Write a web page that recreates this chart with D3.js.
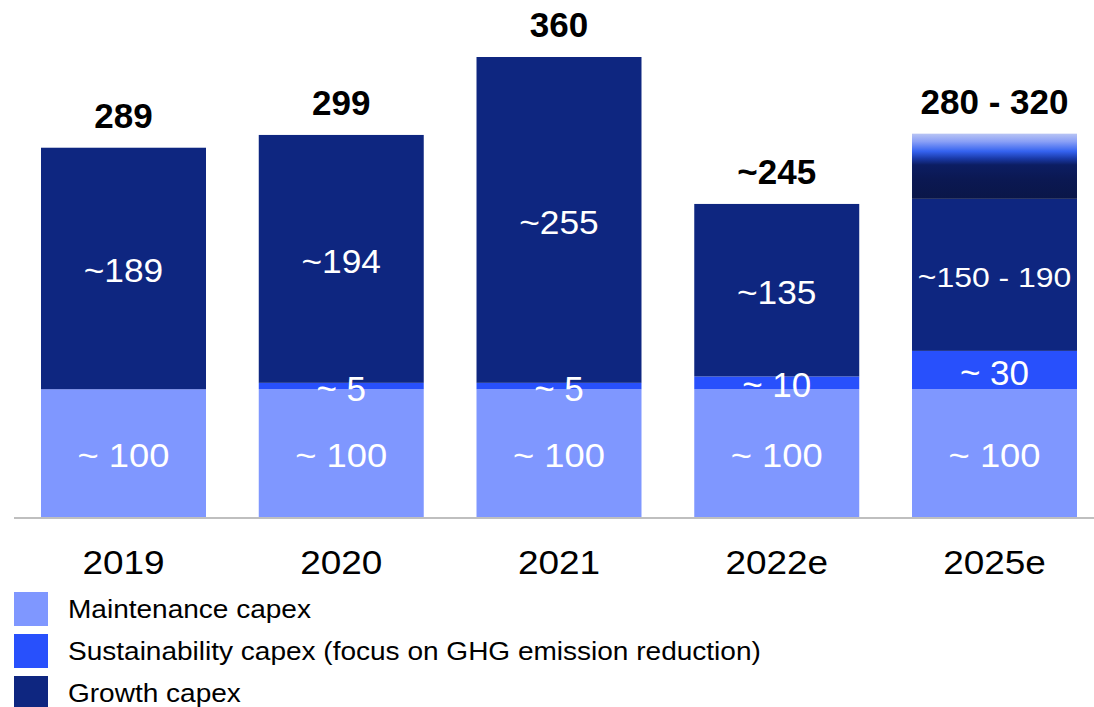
<!DOCTYPE html>
<html>
<head>
<meta charset="utf-8">
<script src="https://cdn.jsdelivr.net/npm/d3@7"></script>
<style>
  html, body { margin: 0; padding: 0; background: #fff; }
  svg { display: block; font-family: "Liberation Sans", Arial, sans-serif; }
</style>
</head>
<body>
<svg id="chart" width="1094" height="707"></svg>
<script>
// ---- data ----
const categories = ["2019", "2020", "2021", "2022e", "2025e"];
const maintenance = [100, 100, 100, 100, 100];
const sustainability = [0, 5, 5, 10, 30];
const growth = [189, 194, 255, 135, 119];        // drawn solid growth part
const growthRange = [0, 0, 0, 0, 51];             // faded uncertainty band (2025e)
const totalLabels = ["289", "299", "360", "~245", "280 - 320"];
const maintenanceLabels = ["~ 100", "~ 100", "~ 100", "~ 100", "~ 100"];
const sustainabilityLabels = ["", "~ 5", "~ 5", "~ 10", "~ 30"];
const growthLabels = ["~189", "~194", "~255", "~135", "~150 - 190"];
const legendLabels = [
  "Maintenance capex",
  "Sustainability capex (focus on GHG emission reduction)",
  "Growth capex"
];

// ---- styles ----
const colors = { maint: "#7f97ff", sust: "#2850fc", growth: "#0e2680" };

const svg = d3.select("#chart");
const x = d3.scaleBand().domain(categories).range([41, 1077]).paddingInner(0.2423).paddingOuter(0);
const y = d3.scaleLinear().domain([0, 360]).range([517, 57]);

const defs = svg.append("defs");
const grad = defs.append("linearGradient").attr("id", "rangeGrad")
  .attr("x1", 0).attr("y1", 0).attr("x2", 0).attr("y2", 1);
[[0, "#b8c4f4"], [0.12, "#8aa0f6"], [0.27, "#3563f0"], [0.38, "#1a3aa8"], [0.48, "#0c1d62"], [0.7, "#0b1852"], [1, "#0a1648"]]
  .forEach(([o, c]) => grad.append("stop").attr("offset", o).attr("stop-color", c));

const data = categories.map((c, i) => {
  const m0 = 0, m1 = maintenance[i];
  const s0 = m1, s1 = m1 + sustainability[i];
  const g0 = s1, g1 = s1 + growth[i];
  const r0 = g1, r1 = g1 + growthRange[i];
  return { c, i, m0, m1, s0, s1, g0, g1, r0, r1 };
});

const bw = x.bandwidth();
const g = svg.append("g");

function seg(sel, lo, hi, fill) {
  sel.append("rect")
    .attr("x", d => x(d.c)).attr("width", bw)
    .attr("y", d => y(d[hi])).attr("height", d => Math.max(0, y(d[lo]) - y(d[hi])))
    .attr("fill", fill);
}
const bars = g.selectAll("g.bar").data(data).join("g").attr("class", "bar");
seg(bars, "m0", "m1", colors.maint);
seg(bars, "s0", "s1", colors.sust);
seg(bars, "g0", "g1", colors.growth);
seg(bars.filter(d => growthRange[d.i] > 0), "r0", "r1", "url(#rangeGrad)");

// axis line
svg.append("line").attr("x1", 14).attr("x2", 1094).attr("y1", 518).attr("y2", 518)
  .attr("stroke", "#bfbfbf").attr("stroke-width", 2);

// category axis labels
const xAxis = d3.axisBottom(x).tickSize(0).tickPadding(0);
const ax = svg.append("g").attr("transform", "translate(0,540)").call(xAxis);
ax.select(".domain").remove();
ax.selectAll("text").attr("font-size", 33).attr("fill", "#000")
  .attr("font-family", "Liberation Sans, Arial, sans-serif")
  .attr("dy", null).attr("y", 0)
  .attr("transform", "translate(0,34) scale(1.12,1)");

// total labels
bars.append("text")
  .attr("x", d => x(d.c) + bw / 2)
  .attr("y", d => y(d.r1) - 20)
  .attr("text-anchor", "middle").attr("font-size", 35).attr("font-weight", "bold").attr("fill", "#000")
  .text(d => totalLabels[d.i]);

// inside labels
function inLabel(sel, lo, hi, labels, fs, extra, sx) {
  sel.append("text")
    .attr("transform", d => `translate(${x(d.c) + bw / 2},${(y(d[lo]) + y(d[hi])) / 2 + 0.36 * fs(d) + extra}) scale(${sx(d)},1)`)
    .attr("text-anchor", "middle").attr("font-size", d => fs(d)).attr("fill", "#fff")
    .text(d => labels[d.i]);
}
inLabel(bars, "m0", "m1", maintenanceLabels, () => 33, 2, () => 1.1);
inLabel(bars, "s0", "s1", sustainabilityLabels, () => 35, 2, () => 1.0);
inLabel(bars, "g0", "g1", growthLabels, d => d.i === 4 ? 28 : 33, 2, d => d.i === 4 ? 1.14 : 1.07);

// legend
const legendColors = [colors.maint, colors.sust, colors.growth];
const lg = svg.append("g").selectAll("g").data(legendLabels).join("g")
  .attr("transform", (d, i) => `translate(14,${592 + i * 42})`);
lg.append("rect").attr("width", 34).attr("height", 34).attr("fill", (d, i) => legendColors[i]);
lg.append("text").attr("transform", "translate(54,26) scale(1.078,1)")
  .attr("font-size", 26).attr("fill", "#000").text(d => d);
</script>
</body>
</html>
